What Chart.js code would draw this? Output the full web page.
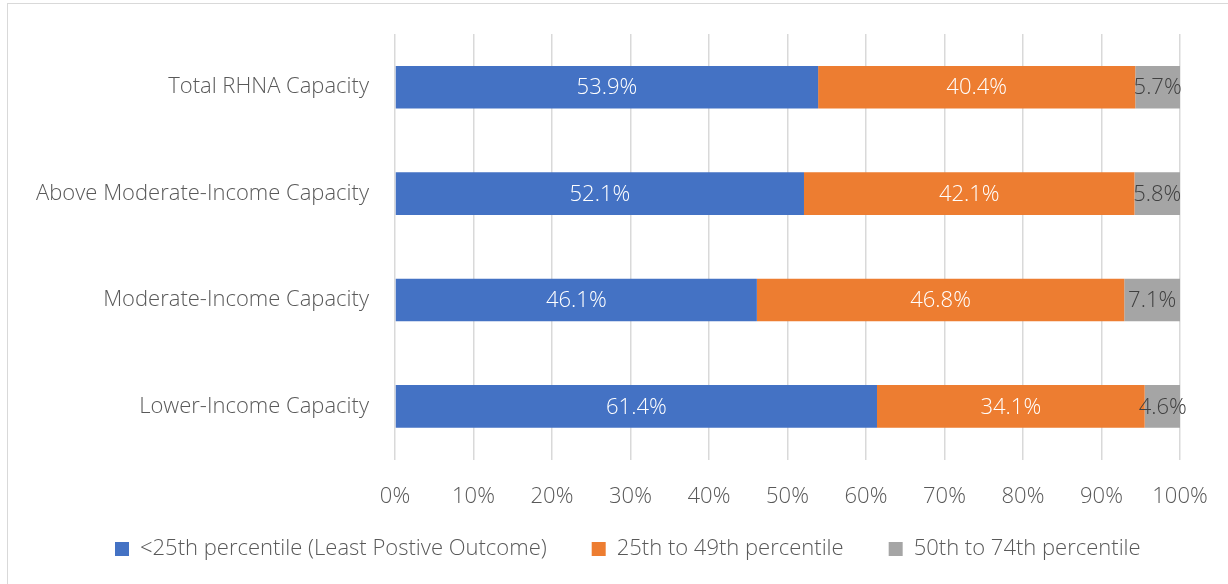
<!DOCTYPE html>
<html>
<head>
<meta charset="utf-8">
<script src="https://cdn.jsdelivr.net/npm/chart.js@4/dist/chart.umd.min.js"></script>
<style>
  html, body { margin: 0; padding: 0; background: #fff; overflow: hidden; }
  #wrap { position: relative; width: 1228px; height: 584px; }
  #frame { position: absolute; left: 7px; top: 3px; width: 1240px; height: 600px;
           border: 1.5px solid #d9d9d9; pointer-events: none; }
</style>
</head>
<body>
<div id="wrap">
  <canvas id="chart" width="1228" height="584"></canvas>
  <div id="frame"></div>
</div>
<script>
const categories = ["Total RHNA Capacity", "Above Moderate-Income Capacity", "Moderate-Income Capacity", "Lower-Income Capacity"];
const seriesNames = ["<25th percentile (Least Postive Outcome)", "25th to 49th percentile", "50th to 74th percentile"];
const below25 = [53.9, 52.1, 46.1, 61.4];
const p25to49 = [40.4, 42.1, 46.8, 34.1];
const p50to74 = [5.7, 5.8, 7.1, 4.6];
const xTicks = [0, 10, 20, 30, 40, 50, 60, 70, 80, 90, 100];

const FONT = "'Open Sans', 'Segoe UI', sans-serif";
const colors = ["#4472C4", "#ED7D31", "#A5A5A5"];
const labelColors = ["#ffffff", "#ffffff", "#404040"];

// draws the value in the middle of every segment
const barLabels = {
    id: "barLabels",
    afterDatasetsDraw(chart) {
        const ctx = chart.ctx;
        ctx.save();
        ctx.font = "300 22px " + FONT;
        ctx.textAlign = "center";
        ctx.textBaseline = "middle";
        chart.data.datasets.forEach((ds, i) => {
            const meta = chart.getDatasetMeta(i);
            meta.data.forEach((bar, j) => {
                const cx = (bar.x + bar.base) / 2;
                ctx.fillStyle = labelColors[i];
                ctx.fillText(ds.data[j].toFixed(1) + "%", cx, bar.y + 1);
            });
        });
        ctx.restore();
    }
};

// move the legend row to where the original has it
const legendShift = {
    id: "legendShift",
    afterLayout(chart) {
        const lg = chart.legend;
        const pad = lg.options.labels.padding;
        const startX = (lg.left + pad + lg.right - lg.lineWidths[0]) / 2;
        const dx = 115 - startX;
        lg.left += dx; lg.right += dx;
        lg.top = 493; lg.bottom = 584;
        lg.height = lg.bottom - lg.top;
    }
};

new Chart(document.getElementById("chart").getContext("2d"), {
    type: "bar",
    data: {
        labels: categories,
        datasets: [
            { label: seriesNames[0], data: below25, backgroundColor: colors[0] },
            { label: seriesNames[1], data: p25to49, backgroundColor: colors[1] },
            { label: seriesNames[2], data: p50to74, backgroundColor: colors[2] }
        ]
    },
    options: {
        indexAxis: "y",
        responsive: false,
        animation: false,
        categoryPercentage: 1,
        barPercentage: 0.4,
        layout: { padding: { top: 34, right: 48, bottom: 0, left: 0 } },
        scales: {
            x: {
                stacked: true,
                min: 0,
                max: 100,
                afterBuildTicks(scale) {
                    scale.ticks = xTicks.map(v => ({ value: v }));
                },
                afterFit(scale) { scale.paddingRight = 0; scale.paddingLeft = 0; },
                grid: { color: "#d9d9d9", lineWidth: 1.5, drawTicks: false },
                border: { display: false },
                ticks: {
                    color: "#595959",
                    padding: 24,
                    font: { family: FONT, size: 22, weight: 300 },
                    callback: v => v + "%"
                }
            },
            y: {
                stacked: true,
                afterFit(scale) { scale.width = 395; scale.paddingTop = 0; scale.paddingBottom = 0; },
                grid: { display: false, drawTicks: false },
                border: { display: false },
                ticks: {
                    color: "#595959",
                    padding: 26,
                    font: { family: FONT, size: 22, weight: 300 }
                }
            }
        },
        plugins: {
            legend: {
                position: "bottom",
                maxHeight: 50,
                labels: {
                    color: "#595959",
                    boxWidth: 14,
                    boxHeight: 14,
                    padding: 45,
                    font: { family: FONT, size: 22, weight: 300 }
                }
            },
            tooltip: { enabled: false }
        }
    },
    plugins: [barLabels, legendShift]
});
</script>
</body>
</html>
